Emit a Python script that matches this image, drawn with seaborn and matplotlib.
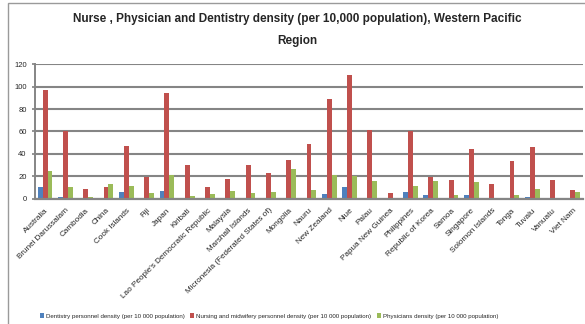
import matplotlib
matplotlib.use("Agg")
import matplotlib.pyplot as plt
import seaborn as sns
import pandas as pd
from matplotlib.patches import Rectangle

countries = [
    "Australia", "Brunei Darussalam", "Cambodia", "China", "Cook Islands", "Fiji",
    "Japan", "Kiribati", "Lao People's Democratic Republic", "Malaysia",
    "Marshall Islands", "Micronesia (Federated States of)", "Mongolia", "Nauru",
    "New Zealand", "Niue", "Palau", "Papua New Guinea", "Philippines",
    "Republic of Korea", "Samoa", "Singapore", "Solomon Islands", "Tonga",
    "Tuvalu", "Vanuatu", "Viet Nam",
]

dentistry = [10.4, 1.5, 0.3, 0.4, 5.7, 0.3, 6.9, 0.3, 0.3, 0.5,
             0.3, 0.3, 0.5, 0.3, 3.6, 10.1, 0.3, 0.2, 5.7,
             2.7, 0.3, 2.7, 0.2, 0.3, 1.5, 0.2, 0.5]
nursing = [97.0, 60.6, 8.7, 10.1, 46.9, 19.7, 94.9, 29.9, 10.1, 17.6,
           29.9, 22.7, 34.6, 48.7, 89.0, 110.4, 60.9, 4.5, 60.6,
           19.1, 17.0, 44.5, 13.1, 33.4, 45.7, 17.0, 7.5]
physicians = [24.5, 10.4, 1.5, 13.4, 11.6, 4.5, 20.6, 1.8, 3.6, 6.9,
              4.5, 5.7, 26.0, 7.5, 20.6, 20.0, 15.5, 0.5, 11.6,
              15.5, 2.7, 14.6, 0.3, 2.7, 8.7, 0.5, 5.7]

series_names = [
    "Dentistry personnel density (per 10 000 population)",
    "Nursing and midwifery personnel density (per 10 000 population)",
    "Physicians density (per 10 000 population)",
]
palette = ["#4F81BD", "#C0504D", "#9BBB59"]

records = []
for name, vals in zip(series_names, [dentistry, nursing, physicians]):
    for c, v in zip(countries, vals):
        records.append({"country": c, "series": name, "value": v})
df = pd.DataFrame(records)

sns.set_theme(style="white")
plt.rcParams["font.family"] = ["Liberation Sans Narrow", "Liberation Sans", "DejaVu Sans"]

fig = plt.figure(figsize=(5.85, 3.24), dpi=100)
ax = fig.add_axes([35 / 585, 1 - 198.5 / 324, 548 / 585, 134 / 324])

sns.barplot(data=df, x="country", y="value", hue="series", palette=palette,
            width=0.72, gap=0.0, ax=ax, saturation=1, legend=True,
            edgecolor="none")

ax.set_ylim(0, 120)
ax.set_yticks(range(0, 121, 20))
ax.set_xlim(-0.5, len(countries) - 0.5)
ax.grid(axis="y", color="#858585", linewidth=1.5)
ax.set_axisbelow(True)
for s in ["top", "right"]:
    ax.spines[s].set_visible(False)
ax.spines["left"].set_color("#858585")
ax.spines["bottom"].set_color("#858585")
ax.spines["left"].set_linewidth(1.4)
ax.spines["bottom"].set_linewidth(1.6)
ax.tick_params(axis="y", labelsize=5.5, length=2, color="#858585", pad=4, left=True)
ax.tick_params(axis="x", length=0, pad=6)
ax.set_xticks(range(len(countries)))
ax.set_xticklabels(countries, rotation=45, ha="right", va="top",
                   rotation_mode="anchor", fontsize=5.9)
ax.set_xlabel("")
ax.set_ylabel("")

handles, labels = ax.get_legend_handles_labels()
ax.legend_.remove()
fig.legend(handles, labels, loc="center", bbox_to_anchor=(269 / 585, 1 - 316 / 324),
           ncol=3, frameon=False, fontsize=4.4, handlelength=0.7, handleheight=0.8,
           handletextpad=0.3, columnspacing=0.9, borderpad=0)

title_font = dict(ha="center", va="center", fontsize=8.5, fontweight="bold")
fig.text(297 / 585, 1 - 19 / 324,
         "Nurse , Physician and Dentistry density (per 10,000 population), Western Pacific",
         **title_font)
fig.text(297 / 585, 1 - 41 / 324, "Region", **title_font)

fig.add_artist(Rectangle((8 / 585, -0.05), 1.2, 1 - 2.5 / 324 + 0.05,
                         transform=fig.transFigure, fill=False,
                         edgecolor="#9a9a9a", linewidth=1.0))

fig.savefig("out.png", dpi=100)
